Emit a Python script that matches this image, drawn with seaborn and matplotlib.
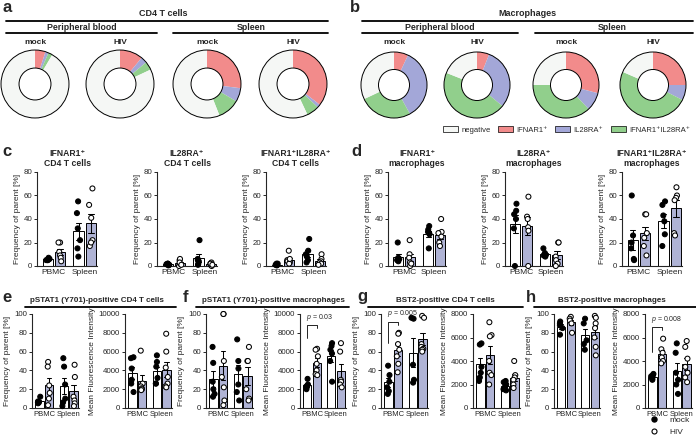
import numpy as np
import pandas as pd
import matplotlib
matplotlib.use("Agg")
import matplotlib.pyplot as plt
import seaborn as sns
from matplotlib.lines import Line2D
from matplotlib.patches import Patch, Circle

np.random.seed(7)

# ---------------- data ----------------
donut_labels = ["IFNAR1⁺", "IL28RA⁺", "IFNAR1⁺IL28RA⁺", "negative"]
cd4_pb_mock = [5, 1.5, 2, 91.5]
cd4_pb_hiv = [11, 3, 4, 82]
cd4_sp_mock = [27, 6.5, 10.5, 56]
cd4_sp_hiv = [35.5, 1.5, 6, 57]
mac_pb_mock = [7, 35, 26, 32]
mac_pb_hiv = [6, 30, 45, 19]
mac_sp_mock = [29, 9, 37, 25]
mac_sp_hiv = [25, 7.5, 49, 18.5]

tissues = ["PBMC", "Spleen"]
groups = ["mock", "HIV"]

c1_mock = [[5, 6, 5, 7, 6, 5], [55, 45, 32, 22, 15, 8]]
c1_hiv = [[20, 20, 12, 9, 7, 4], [66, 52, 41, 22, 17, 20]]
c2_mock = [[1, 1.5, 2, 1, 0.5, 2], [22, 5, 4, 6, 2, 1]]
c2_hiv = [[0, 2, 5, 6, 3, 1], [3, 2, 1, 0, 2, 1]]
c3_mock = [[1, 2, 1, 2, 1, 0.5], [23, 13, 10, 8, 5, 3]]
c3_hiv = [[13, 5, 4, 3, 2, 6], [10, 6, 4, 3, 2, 1]]
d1_mock = [[20, 7, 6, 4, 5, 6], [34, 31, 29, 28, 27, 15]]
d1_hiv = [[22, 10, 7, 3, 0, 2], [40, 29, 28, 25, 20, 17]]
d2_mock = [[53, 47, 44, 40, 32, 0], [15, 11, 10, 9, 8, 9]]
d2_hiv = [[59, 42, 40, 33, 30, 0], [20, 20, 8, 5, 2, 0]]
d3_mock = [[60, 26, 20, 6, 5, 15], [55, 52, 43, 38, 27, 17]]
d3_hiv = [[44, 44, 28, 24, 17, 9], [67, 60, 58, 56, 28, 26]]
e1_mock = [[12, 7, 6, 6, 5], [53, 44, 25, 10, 6, 2]]
e1_hiv = [[49, 44, 24, 16, 10, 3], [46, 33, 12, 8, 5, 2]]
e2_mock = [[5400, 5300, 4200, 3000, 2600, 1700], [5600, 4900, 4400, 3200, 2600, 2600]]
e2_hiv = [[6100, 2600, 2300, 2100, 2000, 1900], [7900, 6000, 4300, 3300, 2600, 2300, 2200]]
f1_mock = [[65, 48, 28, 20, 15, 12], [73, 50, 42, 25, 17, 8]]
f1_hiv = [[100, 100, 50, 33, 22, 8, 3], [65, 50, 50, 20, 10, 8]]
f2_mock = [[3100, 2500, 2300, 2200, 2000], [6900, 6600, 6200, 5800, 5000, 2800]]
f2_hiv = [[6300, 6200, 5500, 4700, 4000, 3600, 3500], [6900, 6000, 3000, 2800, 2500, 2200]]
g1_mock = [[45, 35, 28, 22, 18, 15], [96, 95, 46, 30, 27]]
g1_hiv = [[80, 79, 68, 62, 55, 47, 38], [98, 96, 68, 65, 63, 62, 60]]
g2_mock = [[5500, 5400, 3500, 3000, 2600, 2300], [2300, 2200, 2000, 1800, 1600, 1500]]
g2_hiv = [[7300, 6200, 6100, 4000, 3000, 2800, 2000], [4000, 2800, 2600, 2400, 2000, 1700]]
h1_mock = [[92, 90, 88, 85, 78], [95, 90, 72, 68, 62]]
h1_hiv = [[97, 95, 93, 90, 80], [98, 96, 90, 85, 75, 65, 56]]
h2_mock = [[2900, 2800, 2700, 2600, 2500, 2400], [5500, 4700, 3000, 2400, 2000, 1200]]
h2_hiv = [[5900, 5000, 4700, 4300, 4000, 3800], [5700, 5200, 4200, 3500, 3000, 2600, 2200]]

# ---------------- style ----------------
sns.set_theme(style="ticks")
plt.rcParams["font.family"] = ["Liberation Sans", "DejaVu Sans"]
plt.rcParams["mathtext.fontset"] = "custom"
plt.rcParams["mathtext.it"] = "Liberation Sans:italic"
plt.rcParams["mathtext.rm"] = "Liberation Sans"

RED = "#F28B8B"
BLUE = "#A3A7D8"
GREEN = "#91CF8C"
NEG = "#F5F7F5"
BAR_BLUE = "#A9AEDB"

W, H = 696, 441
fig = plt.figure(figsize=(W / 100, H / 100), dpi=100)


def rect(l, t, w, h):
    return [l / W, 1 - (t + h) / H, w / W, h / H]


def ftext(x, y, s, **kw):
    kw.setdefault("ha", "center")
    kw.setdefault("va", "center")
    fig.text(x / W, 1 - y / H, s, **kw)


def fline(x0, x1, y, lw=1.3):
    fig.add_artist(Line2D([x0 / W, x1 / W], [1 - y / H, 1 - y / H], color="black", lw=lw))


# ---------------- donuts ----------------
def donut(cx, cy, r, vals, label):
    ax = fig.add_axes(rect(cx - r - 1, cy - r - 1, 2 * r + 2, 2 * r + 2))
    ax.pie(vals, colors=[RED, BLUE, GREEN, NEG], startangle=90, counterclock=False,
           radius=1, wedgeprops=dict(width=0.53, linewidth=0))
    ax.add_patch(Circle((0, 0), 1, fill=False, ec="black", lw=0.7))
    ax.add_patch(Circle((0, 0), 0.47, fill=False, ec="black", lw=0.7))
    ax.set_xlim(-1.03, 1.03)
    ax.set_ylim(-1.03, 1.03)
    ax.set_aspect("equal")
    ax.axis("off")
    ftext(cx, 42, label, fontsize=6, weight="bold")


donut(35, 84, 34, cd4_pb_mock, "mock")
donut(120, 84, 34, cd4_pb_hiv, "HIV")
donut(207, 84, 34, cd4_sp_mock, "mock")
donut(293, 84, 34, cd4_sp_hiv, "HIV")
donut(394, 85, 33, mac_pb_mock, "mock")
donut(477, 85, 33, mac_pb_hiv, "HIV")
donut(566, 85, 33, mac_sp_mock, "mock")
donut(653, 85, 33, mac_sp_hiv, "HIV")

ftext(163, 14, "CD4 T cells", fontsize=6.5, weight="bold")
fline(6, 328, 20.5)
ftext(82, 27, "Peripheral blood", fontsize=6.3, weight="bold")
fline(6, 157, 33)
ftext(251, 27, "Spleen", fontsize=6.3, weight="bold")
fline(173, 328, 33)

ftext(527, 14, "Macrophages", fontsize=6.5, weight="bold")
fline(362, 693, 20.5)
ftext(440, 27, "Peripheral blood", fontsize=6.3, weight="bold")
fline(362, 518, 33)
ftext(612, 27, "Spleen", fontsize=6.3, weight="bold")
fline(535, 693, 33)

fig.legend(handles=[Patch(facecolor=c, edgecolor="black", lw=0.5, label=l)
                    for c, l in zip([NEG, RED, BLUE, GREEN],
                                    ["negative", donut_labels[0], donut_labels[1], donut_labels[2]])],
           loc="center right", bbox_to_anchor=(693 / W, 1 - 130 / H), ncol=4, fontsize=5.5,
           frameon=False, handlelength=2.0, handleheight=0.8, columnspacing=1.0,
           handletextpad=0.4, borderaxespad=0)

# ---------------- bar panels ----------------
def bar_panel(r, mock, hiv, ylim, yticks, ylabel, title=None, xlim=(-0.55, 1.4), xsize=6):
    ax = fig.add_axes(rect(*r))
    rows = []
    for g, vals in (("mock", mock), ("HIV", hiv)):
        for t, v in zip(tissues, vals):
            for val in v:
                rows.append((t, g, val))
    df = pd.DataFrame(rows, columns=["tissue", "group", "value"])
    sns.barplot(data=df, x="tissue", y="value", hue="group", order=tissues, hue_order=groups,
                palette={"mock": "white", "HIV": BAR_BLUE}, edgecolor="black", linewidth=0.7,
                errorbar="se", capsize=0.35, err_kws={"color": "black", "linewidth": 0.75},
                width=0.8, gap=0.15, legend=False, ax=ax)
    sns.stripplot(data=df, x="tissue", y="value", hue="group", order=tissues, hue_order=groups,
                  palette={"mock": "black", "HIV": "white"}, edgecolor="black", linewidth=0.75,
                  size=3.6, dodge=True, jitter=0.12, legend=False, clip_on=False, ax=ax)
    ax.set_xlim(*xlim)
    ax.set_ylim(*ylim)
    ax.set_yticks(yticks)
    ax.set_xlabel("")
    ax.set_ylabel(ylabel, fontsize=6, labelpad=2)
    ax.tick_params(axis="y", length=2.5, width=0.7, labelsize=5.7, pad=1)
    ax.tick_params(axis="x", length=0, labelsize=xsize, pad=2)
    for s in ("left", "bottom"):
        ax.spines[s].set_linewidth(0.8)
    sns.despine(ax=ax)
    if title:
        ax.set_title(title, fontsize=6.2, fontweight="bold", pad=4, linespacing=1.25)
    return ax


def bracket(ax, text, ytop, yl, yr):
    centers = sorted(p.get_x() + p.get_width() / 2 for p in ax.patches)
    xl, xr = centers[0], centers[1]
    ax.plot([xl, xl, xr, xr], [yl, ytop, ytop, yr], color="black", lw=0.6, clip_on=False)
    span = ax.get_ylim()[1] - ax.get_ylim()[0]
    ax.text(xl - 0.05, ytop + 0.025 * span, text, fontsize=5, ha="left", va="bottom")


FREQ = "Frequency of parent [%]"
MFI = "Mean Fluorescence Intensity"
top = 172
th = 94
bar_panel((37, top, 60, th), c1_mock, c1_hiv, (0, 80), range(0, 81, 20), FREQ, "IFNAR1⁺\nCD4 T cells")
bar_panel((157, top, 60, th), c2_mock, c2_hiv, (0, 80), range(0, 81, 20), FREQ, "IL28RA⁺\nCD4 T cells")
bar_panel((266, top, 60, th), c3_mock, c3_hiv, (0, 80), range(0, 81, 20), FREQ, "IFNAR1⁺IL28RA⁺\nCD4 T cells")
bar_panel((388, top, 58, th), d1_mock, d1_hiv, (0, 80), range(0, 81, 20), FREQ, "IFNAR1⁺\nmacrophages")
bar_panel((505, top, 58, th), d2_mock, d2_hiv, (0, 80), range(0, 81, 20), FREQ, "IL28RA⁺\nmacrophages")
bar_panel((622, top, 60, th), d3_mock, d3_hiv, (0, 80), range(0, 81, 20), FREQ, "IFNAR1⁺IL28RA⁺\nmacrophages")

bt = 314
bx = (-0.5, 1.42)
bs = 5.5
bar_panel((32, bt, 47, th), e1_mock, e1_hiv, (0, 100), range(0, 101, 20), FREQ, xlim=bx, xsize=bs)
bar_panel((125, bt, 47, th), e2_mock, e2_hiv, (0, 10000), range(0, 10001, 2000), MFI, xlim=bx, xsize=bs)
bar_panel((206, bt, 47, th), f1_mock, f1_hiv, (0, 100), range(0, 101, 20), FREQ, xlim=bx, xsize=bs)
axf2 = bar_panel((300, bt, 46, th), f2_mock, f2_hiv, (0, 10000), range(0, 10001, 2000), MFI, xlim=bx, xsize=bs)
axg1 = bar_panel((381, bt, 47, th), g1_mock, g1_hiv, (0, 100), range(0, 101, 20), FREQ, xlim=bx, xsize=bs)
bar_panel((473, bt, 47, th), g2_mock, g2_hiv, (0, 8000), range(0, 8001, 2000), MFI, xlim=bx, xsize=bs)
bar_panel((554, bt, 46, th), h1_mock, h1_hiv, (0, 100), range(0, 101, 20), FREQ, xlim=bx, xsize=bs)
axh2 = bar_panel((645, bt, 47, th), h2_mock, h2_hiv, (0, 8000), range(0, 8001, 2000), MFI, xlim=bx, xsize=bs)

bracket(axf2, "$p$ = 0.03", 8800, 7400, 8500)
bracket(axg1, "$p$ = 0.005", 92, 69, 88)
bracket(axh2, "$p$ = 0.008", 6900, 4800, 6650)

# bottom section titles
ftext(97, 301, "pSTAT1 (Y701)-positive CD4 T cells", fontsize=5.8, weight="bold")
fline(25, 176, 306.5)
ftext(273, 301, "pSTAT1 (Y701)-positive macrophages", fontsize=5.8, weight="bold")
fline(196, 349, 306.5)
ftext(445, 301, "BST2-positive CD4 T cells", fontsize=5.8, weight="bold")
fline(368, 523, 306.5)
ftext(612, 301, "BST2-positive macrophages", fontsize=5.8, weight="bold")
fline(534, 696, 306.5)

# panel letters
for x, y, s in [(7, 8, "a"), (355, 8, "b"), (7, 152, "c"), (356, 152, "d"),
                (7, 297, "e"), (185, 297, "f"), (362, 297, "g"), (531, 297, "h")]:
    ftext(x, y, s, fontsize=12, weight="bold")

fig.legend(handles=[Line2D([], [], marker="o", ls="", mfc="black", mec="black", ms=3.6, label="mock"),
                    Line2D([], [], marker="o", ls="", mfc="white", mec="black", mew=0.8, ms=3.6, label="HIV")],
           loc="lower right", bbox_to_anchor=(695 / W, 0.0), fontsize=6, frameon=False,
           handletextpad=0.9, labelspacing=0.55, borderaxespad=0.2)

fig.savefig("out.png", dpi=100)
